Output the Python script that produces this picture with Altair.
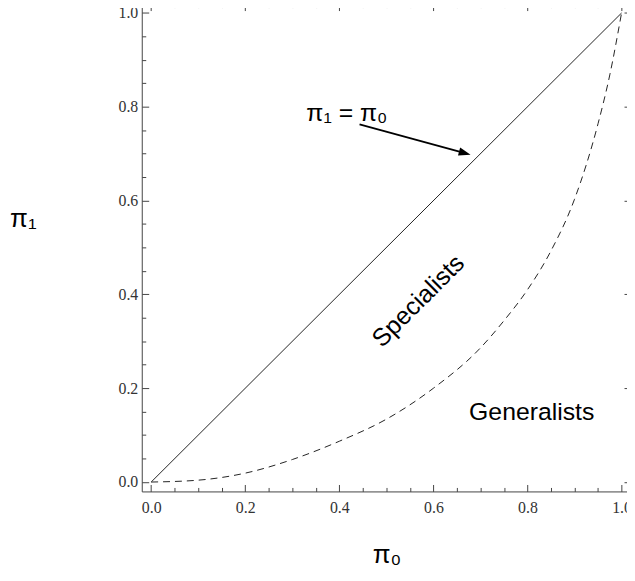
import altair as alt
import pandas as pd

# --- data ---
line_x = [0.0, 1.0]
line_y = [0.0, 1.0]

curve_x = [0.0, 0.1, 0.2, 0.3, 0.4, 0.5, 0.6, 0.7, 0.75, 0.8, 0.85, 0.9, 0.95, 0.975, 1.0]
curve_y = [0.0, 0.004, 0.019, 0.048, 0.087, 0.134, 0.200, 0.286, 0.344, 0.410, 0.493, 0.603, 0.764, 0.868, 1.0]

major_ticks = [0.0, 0.2, 0.4, 0.6, 0.8, 1.0]
minor_ticks = [0.05, 0.1, 0.15, 0.25, 0.3, 0.35, 0.45, 0.5, 0.55, 0.65, 0.7, 0.75, 0.85, 0.9, 0.95]

text_labels = ["π₁ = π₀", "Specialists", "Generalists"]
text_x = [0.416, 0.568, 0.809]
text_y = [0.787, 0.386, 0.149]
text_angle = [0, 315, 0]

arrow_start = [0.443, 0.7626]
arrow_end = [0.663, 0.7024]
arrow_tip = [0.679, 0.698]

# --- tables ---
df_line = pd.DataFrame({"x": line_x, "y": line_y})
df_curve = pd.DataFrame({"x": curve_x, "y": curve_y})
df_text = pd.DataFrame({"x": text_x, "y": text_y, "label": text_labels, "angle": text_angle})
df_arrow = pd.DataFrame({"x": [arrow_start[0]], "y": [arrow_start[1]],
                         "x2": [arrow_end[0]], "y2": [arrow_end[1]]})
df_tip = pd.DataFrame({"x": [arrow_tip[0]], "y": [arrow_tip[1]]})

FRAME = "#444444"
LABEL = "#333333"

xscale = alt.Scale(domain=[-0.02, 1.02], nice=False, zero=False)
yscale = alt.Scale(domain=[-0.02, 1.02], nice=False, zero=False)


def axis(orient, values, size, labels=False, **kw):
    return alt.Axis(
        orient=orient,
        values=values,
        tickSize=size,
        offset=-size,
        tickColor=FRAME,
        tickWidth=1,
        domain=False,
        grid=False,
        labels=labels,
        format=".1f",
        labelFont="Liberation Serif, Times New Roman, serif",
        labelFontSize=16,
        labelColor=LABEL,
        labelFlush=False,
        labelOverlap=False,
        **kw,
    )


title_style = dict(titleFont="Liberation Sans", titleFontSize=26, titleFontWeight="normal",
                   titleColor="black", titleAngle=0, titleAlign="center", titleBaseline="middle")

x_bottom_major = axis("bottom", major_ticks, 7, labels=True, labelPadding=8,
                      title="π₀", titleX=247, titleY=71, **title_style)
y_left_major = axis("left", major_ticks, 7, labels=True, labelPadding=4,
                    title="π₁", titleX=-127, titleY=217, **title_style)
x_bottom_minor = axis("bottom", minor_ticks, 4, title="")
y_left_minor = axis("left", minor_ticks, 4, title="")
x_top_major = axis("top", major_ticks, 7, title="")
y_right_major = axis("right", major_ticks, 7, title="")
x_top_minor = axis("top", minor_ticks, 4, title="")
y_right_minor = axis("right", minor_ticks, 4, title="")

diag = alt.Chart(df_line).mark_line(color="#222222", strokeWidth=1).encode(
    x=alt.X("x:Q", scale=xscale, axis=x_bottom_major),
    y=alt.Y("y:Q", scale=yscale, axis=y_left_major),
)

curve = alt.Chart(df_curve).mark_line(color="#222222", strokeWidth=1, strokeDash=[7, 5],
                                      interpolate="monotone").encode(
    x=alt.X("x:Q", scale=xscale, axis=x_bottom_minor),
    y=alt.Y("y:Q", scale=yscale, axis=y_left_minor),
)

texts = alt.Chart(df_text).mark_text(font="Liberation Sans", fontSize=25, color="black",
                                     align="center", baseline="middle").encode(
    x=alt.X("x:Q", scale=xscale, axis=x_top_major),
    y=alt.Y("y:Q", scale=yscale, axis=y_right_major),
    text="label:N",
    angle=alt.Angle("angle:Q", scale=None),
)

arrow = alt.Chart(df_arrow).mark_rule(color="black", strokeWidth=1.8).encode(
    x=alt.X("x:Q", scale=xscale, axis=x_top_minor),
    y=alt.Y("y:Q", scale=yscale, axis=y_right_minor),
    x2="x2:Q",
    y2="y2:Q",
)

tip = alt.Chart(df_tip).mark_point(shape="M0,0L-2,-0.7L-2,0.7Z", size=144, angle=15.2,
                                    filled=True, color="black", opacity=1).encode(
    x=alt.X("x:Q", scale=xscale, axis=None),
    y=alt.Y("y:Q", scale=yscale, axis=None),
)

chart = alt.layer(diag, curve, texts, arrow, tip).resolve_axis(
    x="independent", y="independent"
).properties(
    width=493.7,
    height=492.3,
    padding={"left": 135, "top": -7, "right": -4, "bottom": 75},
    autosize=alt.AutoSizeParams(type="none"),
).configure_view(stroke=FRAME, strokeWidth=1)

chart.save("out.html", embed_options={"renderer": "svg", "actions": False})
